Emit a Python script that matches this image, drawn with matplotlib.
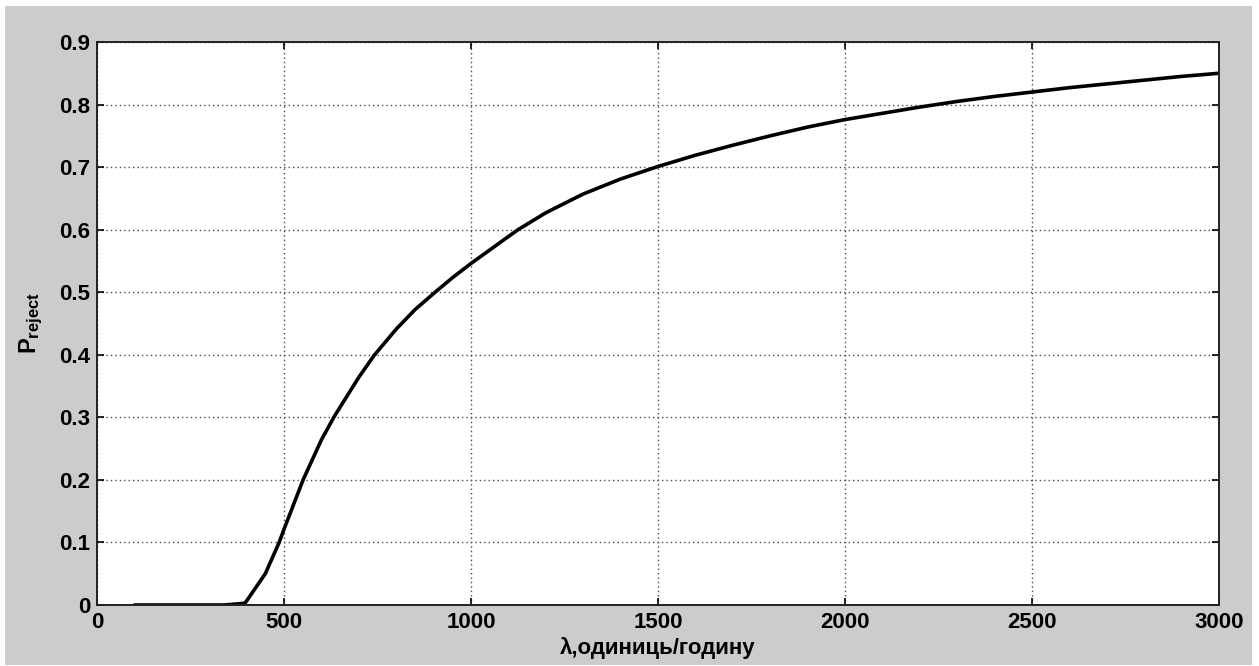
import matplotlib
matplotlib.use("Agg")

import matplotlib.pyplot as plt
from matplotlib.patches import Rectangle

# data
lam = [100, 200, 300, 340, 380, 396, 450, 487, 500, 551, 600, 634, 700, 741,
       800, 850, 904, 950, 1000, 1100, 1126, 1200, 1300, 1400, 1500, 1600,
       1700, 1800, 1900, 2000, 2100, 2200, 2300, 2400, 2500, 2600, 2700,
       2800, 2900, 3000]
p_reject = [0.0, 0.0, 0.0, 0.0, 0.002, 0.003, 0.05, 0.1, 0.121, 0.2, 0.264,
            0.301, 0.364, 0.399, 0.441, 0.472, 0.5, 0.523, 0.546, 0.589,
            0.600, 0.627, 0.657, 0.681, 0.701, 0.719, 0.735, 0.750, 0.764,
            0.776, 0.786, 0.796, 0.805, 0.813, 0.820, 0.827, 0.833, 0.839,
            0.845, 0.850]

x_ticks = [0, 500, 1000, 1500, 2000, 2500, 3000]
y_ticks = [0, 0.1, 0.2, 0.3, 0.4, 0.5, 0.6, 0.7, 0.8, 0.9]
y_ticklabels = ["0", "0.1", "0.2", "0.3", "0.4", "0.5", "0.6", "0.7", "0.8", "0.9"]

plt.rcParams["font.family"] = ["Liberation Sans", "DejaVu Sans"]
plt.rcParams["font.weight"] = "bold"
plt.rcParams["mathtext.fontset"] = "custom"
plt.rcParams["mathtext.rm"] = "Liberation Sans:bold"
plt.rcParams["mathtext.bf"] = "Liberation Sans:bold"
plt.rcParams["mathtext.it"] = "Liberation Sans:bold"

fig = plt.figure(figsize=(12.59, 6.66), dpi=100, facecolor="white")

# grey panel behind the plot (MATLAB figure background)
fig.patches.append(Rectangle((5 / 1259, 1 / 666), 1247 / 1259, 659 / 666,
                             transform=fig.transFigure, facecolor="#cccccc",
                             edgecolor="none", zorder=-10))

ax = fig.add_axes([97 / 1259, 61 / 666, 1122 / 1259, 563 / 666])
ax.set_zorder(5)
ax.set_facecolor("white")

ax.plot(lam, p_reject, color="black", lw=2.6, solid_joinstyle="round",
        solid_capstyle="round")

ax.set_xlim(0, 3000)
ax.set_ylim(0, 0.9)
ax.set_xticks(x_ticks)
ax.set_xticklabels([str(t) for t in x_ticks])
ax.set_yticks(y_ticks)
ax.set_yticklabels(y_ticklabels)

ax.grid(True, color="#4a4a4a", linestyle=(0, (1, 2.2)), lw=1.0)
ax.tick_params(direction="in", length=5, width=1.2, top=True, right=True,
               labelsize=16, colors="black", pad=5)
ax.tick_params(axis="y", pad=5)
for s in ax.spines.values():
    s.set_linewidth(1.4)
    s.set_color("#222222")

ax.set_xlabel("λ,одиниць/годину", fontsize=16, fontweight="bold", labelpad=3)
ax.set_ylabel(r"$\mathbf{P}_{\mathbf{reject}}$", fontsize=17, labelpad=10)

fig.savefig("out.png", dpi=100, facecolor="white")
